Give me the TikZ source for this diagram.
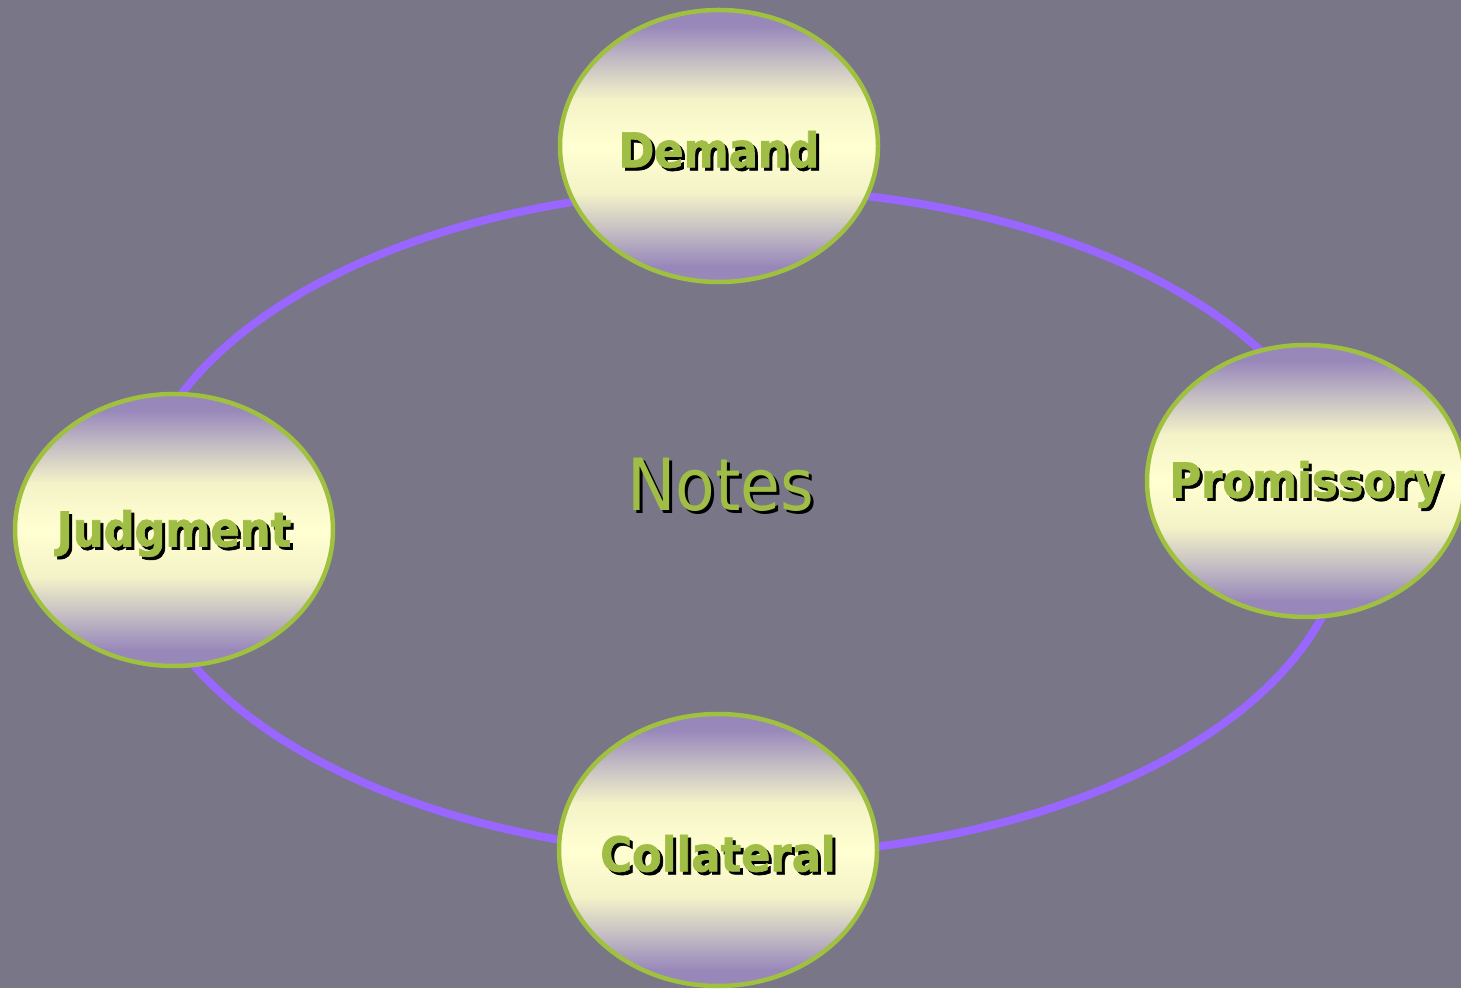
\documentclass[tikz,border=0pt]{standalone}
\usepackage{fontspec}
\usetikzlibrary{shapes.geometric}
\newfontfamily\labfont[FakeStretch=0.9]{DejaVu Sans}
\newfontfamily\boldlabfont[FakeStretch=0.9, FakeBold=1.4]{DejaVu Sans Bold}
\definecolor{bgc}{RGB}{121,118,136}
\definecolor{ringc}{RGB}{153,102,255}
\definecolor{edgec}{RGB}{160,192,64}
\definecolor{txtc}{RGB}{160,190,70}
\definecolor{pp}{RGB}{152,136,186}
\definecolor{mm}{RGB}{200,194,196}
\definecolor{yy}{RGB}{255,255,210}
\definecolor{yy2}{RGB}{244,243,200}
\pgfdeclareverticalshading{nodeshade}{100bp}{color(0bp)=(pp); color(25bp)=(pp); color(28bp)=(pp); color(35bp)=(mm); color(41.5bp)=(yy2); color(50bp)=(yy); color(58.5bp)=(yy2); color(65bp)=(mm); color(72bp)=(pp); color(75bp)=(pp); color(100bp)=(pp)}
\newcommand\shtext[1]{\rlap{\kern3pt\raisebox{-3pt}{\color{black}#1}}#1}
\newcommand\bubtext[1]{\makebox[0pt]{\raisebox{-5pt}[\height][\depth]{\shtext{#1}}}}
\tikzset{
  x=1pt, y=1pt,
  ringline/.style={draw=ringc, line width=8pt},
  bubble/.style={ellipse, draw=edgec, line width=4.5pt, shading=nodeshade,
    minimum width=318pt, minimum height=272pt, inner sep=0pt,
    text=txtc, font=\boldlabfont\fontsize{48}{54}\selectfont},
  title/.style={text=txtc, font=\labfont\fontsize{72}{80}\selectfont, inner sep=0pt}
}
\begin{document}
\begin{tikzpicture}
\fill[bgc] (0,0) rectangle (1461,988);
\useasboundingbox (0,0) rectangle (1461,988);
\coordinate (ringc) at (741,466);
\draw[ringline] (ringc) ellipse [x radius=606, y radius=333];
\node[bubble] (demand) at (719,842) {\bubtext{Demand}};
\node[bubble] (judgment) at (174,458) {\bubtext{Judgment}};
\node[bubble] (promissory) at (1306,507) {\bubtext{Promissory}};
\node[bubble] (collateral) at (718,138) {\bubtext{Collateral}};
\node[title] (notes) at (721,502) {\shtext{Notes}};
\end{tikzpicture}
\end{document}
